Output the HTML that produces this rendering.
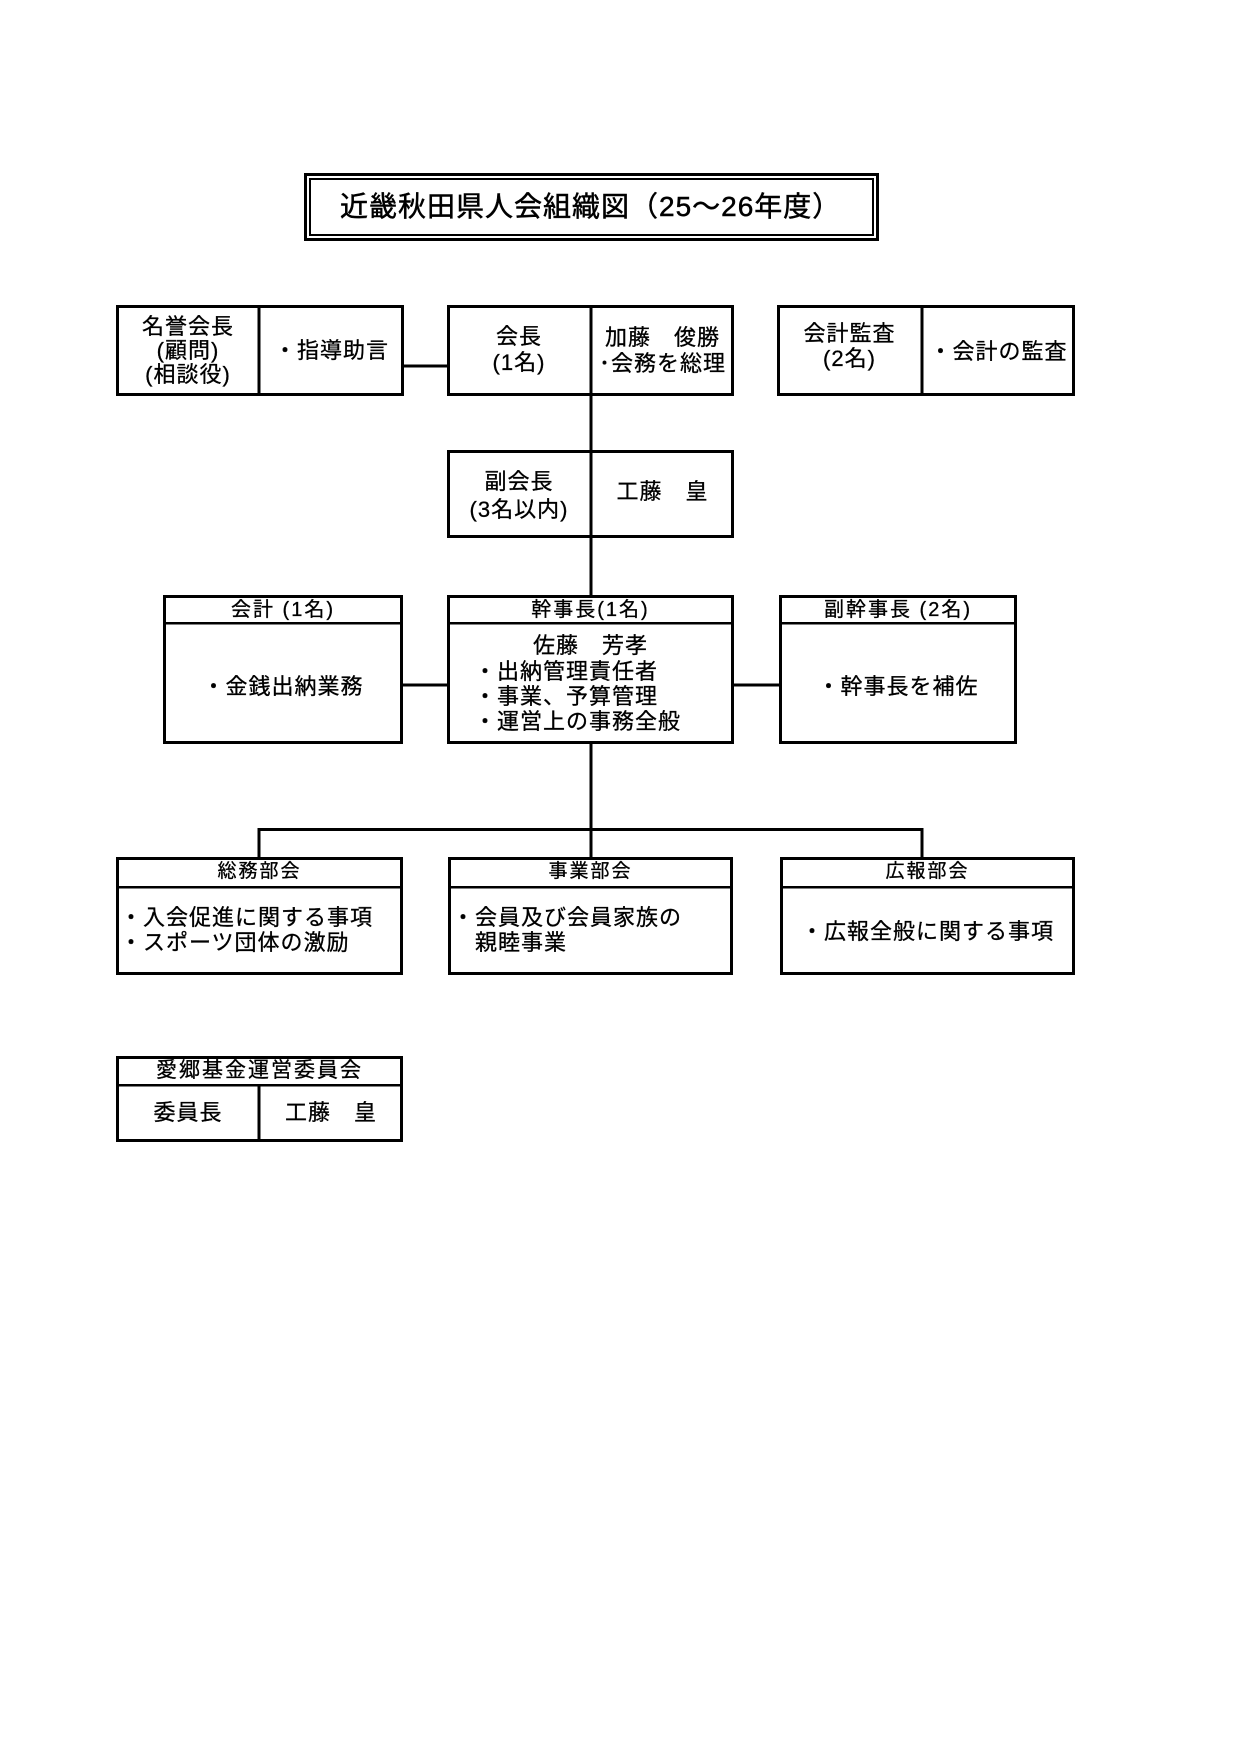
<!DOCTYPE html>
<html lang="ja">
<head>
<meta charset="utf-8">
<style>
  html, body { margin: 0; padding: 0; background: #fff; }
  body { width: 1241px; height: 1755px; position: relative; overflow: hidden; }
  svg { position: absolute; left: 0; top: 0; }
  .t {
    position: absolute;
    white-space: pre;
    font-family: "Liberation Sans", "Noto Sans CJK JP", sans-serif;
    font-size: 22px;
    letter-spacing: 1px;
    color: #000;
    text-align: center;
    -webkit-text-stroke: 0.3px #000;
  }
  .l { text-align: left; }
  .h3 { font-size: 20px; letter-spacing: 2px; }
  .h4 { font-size: 19px; letter-spacing: 2px; }
</style>
</head>
<body>
<svg width="1241" height="1755" viewBox="0 0 1241 1755" shape-rendering="crispEdges">
  <g fill="none" stroke="#000">
    <rect x="305.5" y="174.5" width="572" height="65" stroke-width="3"/>
    <rect x="310" y="179" width="563" height="56" stroke-width="2"/>

    <rect x="117.5" y="306.5" width="285" height="88" stroke-width="3"/>
    <line x1="259" y1="305" x2="259" y2="396" stroke-width="3"/>
    <rect x="448.5" y="306.5" width="284" height="88" stroke-width="3"/>
    <line x1="591" y1="305" x2="591" y2="396" stroke-width="3"/>
    <rect x="778.5" y="306.5" width="295" height="88" stroke-width="3"/>
    <line x1="922" y1="305" x2="922" y2="396" stroke-width="3"/>
    <line x1="404" y1="366" x2="447" y2="366" stroke-width="3"/>

    <line x1="591" y1="396" x2="591" y2="450" stroke-width="3"/>

    <rect x="448.5" y="451.5" width="284" height="85" stroke-width="3"/>
    <line x1="591" y1="450" x2="591" y2="538" stroke-width="3"/>
    <line x1="591" y1="538" x2="591" y2="595" stroke-width="3"/>

    <rect x="164.5" y="596.5" width="237" height="146" stroke-width="3"/>
    <line x1="163" y1="623" x2="403" y2="623" stroke-width="2.5"/>
    <rect x="448.5" y="596.5" width="284" height="146" stroke-width="3"/>
    <line x1="447" y1="623" x2="734" y2="623" stroke-width="2.5"/>
    <rect x="780.5" y="596.5" width="235" height="146" stroke-width="3"/>
    <line x1="779" y1="623" x2="1017" y2="623" stroke-width="2.5"/>
    <line x1="403" y1="685" x2="447" y2="685" stroke-width="3"/>
    <line x1="734" y1="685" x2="779" y2="685" stroke-width="3"/>

    <line x1="591" y1="744" x2="591" y2="830" stroke-width="3"/>
    <line x1="257.5" y1="829.5" x2="923.5" y2="829.5" stroke-width="3"/>
    <line x1="259" y1="829" x2="259" y2="857" stroke-width="3"/>
    <line x1="591" y1="829" x2="591" y2="857" stroke-width="3"/>
    <line x1="922" y1="829" x2="922" y2="857" stroke-width="3"/>

    <rect x="117.5" y="858.5" width="284" height="115" stroke-width="3"/>
    <line x1="116" y1="887" x2="403" y2="887" stroke-width="2.5"/>
    <rect x="449.5" y="858.5" width="282" height="115" stroke-width="3"/>
    <line x1="448" y1="887" x2="733" y2="887" stroke-width="2.5"/>
    <rect x="781.5" y="858.5" width="292" height="115" stroke-width="3"/>
    <line x1="780" y1="887" x2="1075" y2="887" stroke-width="2.5"/>

    <rect x="117.5" y="1057.5" width="284" height="83" stroke-width="3"/>
    <line x1="116" y1="1085" x2="403" y2="1085" stroke-width="2.5"/>
    <line x1="259" y1="1085" x2="259" y2="1142" stroke-width="3"/>
  </g>
</svg>

<div class="t l" style="left:340px; top:187px; line-height:40px; font-size:28px; letter-spacing:1px; -webkit-text-stroke:0.5px #000;">近畿秋田県人会組織図（25～26年度）</div>

<div class="t" style="left:117px; top:315px; width:142px; line-height:24px;">名誉会長
(顧問)
(相談役)</div>
<div class="t" style="left:259px; top:338px; width:145px; line-height:26px;">・指導助言</div>

<div class="t" style="left:447px; top:324px; width:144px; line-height:26px;">会長
(1名)</div>
<div class="t" style="left:591px; top:325px; width:143px; line-height:26px;">加藤　俊勝
･会務を総理</div>

<div class="t" style="left:777px; top:321px; width:145px; line-height:25px;">会計監査
(2名)</div>
<div class="t" style="left:922px; top:339px; width:153px; line-height:26px;">・会計の監査</div>

<div class="t" style="left:447px; top:468px; width:144px; line-height:28px;">副会長
(3名以内)</div>
<div class="t" style="left:591px; top:479px; width:143px; line-height:26px;">工藤　皇</div>

<div class="t h3" style="left:163px; top:597px; width:240px; line-height:26px;">会計 (1名)</div>
<div class="t h3" style="left:447px; top:597px; width:287px; line-height:26px;">幹事長(1名)</div>
<div class="t h3" style="left:779px; top:597px; width:238px; line-height:26px;">副幹事長 (2名)</div>

<div class="t" style="left:163px; top:674px; width:240px; line-height:26px;">・金銭出納業務</div>
<div class="t" style="left:447px; top:633px; width:287px; line-height:25px;">佐藤　芳孝</div>
<div class="t l" style="left:474px; top:659px; line-height:25px;">・出納管理責任者
・事業、予算管理
・運営上の事務全般</div>
<div class="t" style="left:779px; top:674px; width:238px; line-height:26px;">・幹事長を補佐</div>

<div class="t h4" style="left:116px; top:859px; width:287px; line-height:26px;">総務部会</div>
<div class="t h4" style="left:448px; top:859px; width:285px; line-height:26px;">事業部会</div>
<div class="t h4" style="left:780px; top:859px; width:295px; line-height:26px;">広報部会</div>

<div class="t l" style="left:120px; top:905px; line-height:25px;">・入会促進に関する事項
・スポーツ団体の激励</div>
<div class="t l" style="left:452px; top:905px; line-height:25px;">・会員及び会員家族の
　親睦事業</div>
<div class="t" style="left:780px; top:919px; width:295px; line-height:26px;">・広報全般に関する事項</div>

<div class="t" style="left:116px; top:1057px; width:287px; line-height:27px; font-size:21px; letter-spacing:2px;">愛郷基金運営委員会</div>
<div class="t" style="left:117px; top:1100px; width:142px; line-height:26px;">委員長</div>
<div class="t" style="left:259px; top:1100px; width:144px; line-height:26px;">工藤　皇</div>

</body>
</html>
